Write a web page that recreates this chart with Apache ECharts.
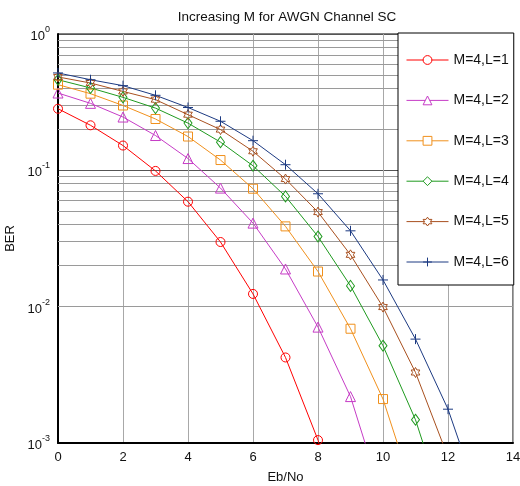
<!DOCTYPE html>
<html><head><meta charset="utf-8">
<script src="https://cdn.jsdelivr.net/npm/echarts@6/dist/echarts.min.js"></script>
<style>html,body{margin:0;padding:0;background:#fff}#c{width:520px;height:486px}</style>
</head><body><div id="c"></div>
<script>
var ebno = [0,1,2,3,4,5,6,7,8,9,10,11,12,13];
var seriesNames = ['M=4,L=1','M=4,L=2','M=4,L=3','M=4,L=4','M=4,L=5','M=4,L=6'];
var berL1 = [0.283,0.214,0.152,0.099,0.0589,0.0298,0.0124,0.00424,0.00105,0.00015];
var berL2 = [0.369,0.310,0.246,0.180,0.122,0.0741,0.0410,0.0189,0.00708,0.00219,0.00038];
var berL3 = [0.425,0.365,0.299,0.238,0.177,0.119,0.0733,0.0388,0.0181,0.00689,0.0021,0.00039];
var berL4 = [0.462,0.402,0.343,0.286,0.222,0.161,0.108,0.0644,0.0327,0.0142,0.00517,0.00148,0.00027];
var berL5 = [0.484,0.437,0.379,0.330,0.256,0.199,0.138,0.0863,0.0494,0.0240,0.00993,0.00329,0.00079];
var berL6 = [0.518,0.462,0.418,0.355,0.289,0.229,0.165,0.110,0.0673,0.0360,0.0157,0.00578,0.00177,0.00036];
var xTicks = [0,2,4,6,8,10,12,14];
var yDecades = [0.001,0.01,0.1,1];
var yMinor = [0.002,0.003,0.004,0.005,0.006,0.007,0.008,0.009,
              0.02,0.03,0.04,0.05,0.06,0.07,0.08,0.09,
              0.2,0.3,0.4,0.5,0.6,0.7,0.8,0.9];

var colors = ['#ff0000','#c63cc6','#f0901c','#1f9a1f','#a8501f','#1c3a82'];
var hexagram = 'path://M100,0 L128.9,50 L186.6,50 L157.7,100 L186.6,150 L128.9,150 L100,200 L71.1,150 L13.4,150 L42.3,100 L13.4,50 L71.1,50 Z';
var plusPath = 'path://M50,0 L50,100 M0,50 L100,50';
var symbols = ['circle','triangle','rect','diamond',hexagram,plusPath];
var sizes = [9,10,9,[8,11],10,10];
var allData = [berL1,berL2,berL3,berL4,berL5,berL6];

var font = 'Liberation Sans, Arial, sans-serif';
var series = allData.map(function(vals,i){
  return {
    name: seriesNames[i], type:'line', z:3,
    data: vals.map(function(v,k){return [ebno[k], v];}),
    symbol: symbols[i], symbolSize: sizes[i], symbolKeepAspect:true,
    showAllSymbol:true, clip:true, animation:false,
    lineStyle:{color:colors[i], width:1},
    itemStyle:{color:'rgba(255,255,255,0)', borderColor:colors[i], borderWidth:1}
  };
});
series.push({
  name:'minor', type:'line', data:[], z:1, silent:true, animation:false,
  markLine:{z:1, silent:true, symbol:['none','none'], label:{show:false}, animation:false,
    lineStyle:{color:'#9a9a9a', type:'solid', width:1},
    data: yMinor.map(function(v){return {yAxis:v};})}
});

var legendData = seriesNames.map(function(n,i){
  return {name:n, itemStyle:{color:'#fff', borderColor:colors[i], borderWidth:1},
          lineStyle:{color:colors[i], width:1}};
});

var chart = echarts.init(document.getElementById('c'), null, {renderer:'canvas'});
chart.setOption({
  backgroundColor:'#fff',
  animation:false,
  title:{text:'Increasing M for AWGN Channel SC', left:282, top:5, textAlign:'center',
    textStyle:{fontSize:13.5, fontWeight:'normal', color:'#111', fontFamily:font}},
  grid:{left:58, right:7, top:34, bottom:43, outerBoundsMode:'none', containLabel:false,
    show:true, borderColor:'#000', borderWidth:1, backgroundColor:'#fff'},
  legend:{data:legendData, orient:'vertical', left:398, top:33, z:10,
    itemWidth:42, itemHeight:11, itemGap:26.4, padding:[20,5,16,8],
    backgroundColor:'#fff', borderColor:'#000', borderWidth:1, borderRadius:0,
    textStyle:{fontSize:14, color:'#111', fontFamily:font}},
  xAxis:{type:'value', min:xTicks[0], max:xTicks[xTicks.length-1], interval:2,
    name:'Eb/No', nameLocation:'middle', nameGap:28,
    nameTextStyle:{fontSize:13, color:'#111', fontFamily:font},
    axisLine:{show:true, onZero:false, lineStyle:{color:'#000', width:2}},
    axisTick:{show:false},
    axisLabel:{fontSize:13, color:'#111', margin:8, fontFamily:font},
    splitLine:{show:true, lineStyle:{color:'#a8a8a8', width:1}}},
  yAxis:{type:'log', logBase:10, min:yDecades[0], max:yDecades[yDecades.length-1],
    name:'BER', nameLocation:'middle', nameGap:37,
    nameTextStyle:{fontSize:13, color:'#111', fontFamily:font},
    axisLine:{show:true, onZero:false, lineStyle:{color:'#000', width:2}},
    axisTick:{show:false},
    axisLabel:{margin:8, fontFamily:font,
      formatter:function(v){ var e=Math.round(Math.log10(v)); return '{b|10}{s|'+e+'}'; },
      rich:{b:{fontSize:13, color:'#111', fontFamily:font, verticalAlign:'bottom', lineHeight:18},
            s:{fontSize:9, color:'#111', fontFamily:font, verticalAlign:'top', lineHeight:18}}},
    splitLine:{show:true, lineStyle:{color:'#555', width:1}}},
  series: series
});
</script></body></html>
